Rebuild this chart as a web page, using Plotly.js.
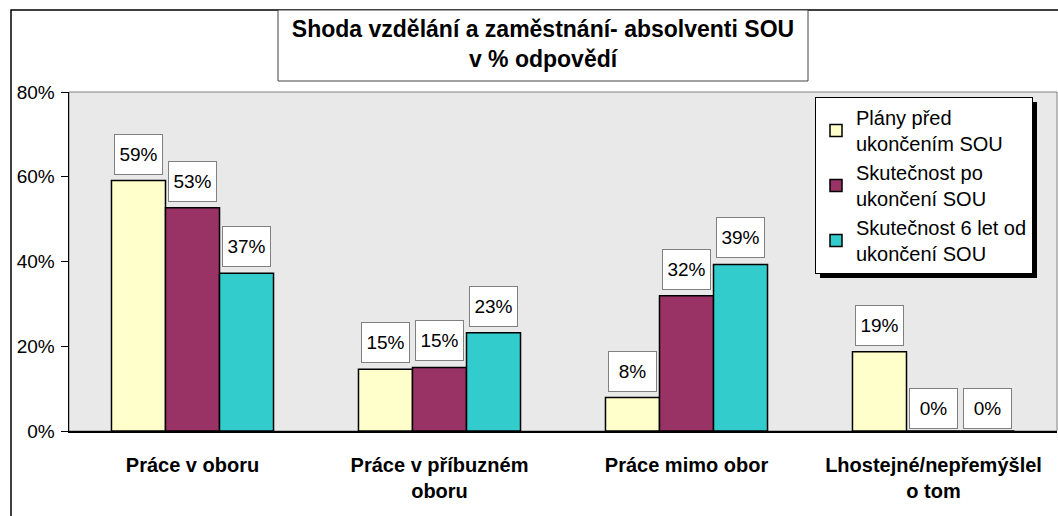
<!DOCTYPE html>
<html>
<head>
<meta charset="utf-8">
<script src="https://cdn.plot.ly/plotly-3.0.1.min.js"></script>
<style>
html,body{margin:0;padding:0;background:#fff;}
#chart{width:1058px;height:516px;}
</style>
</head>
<body>
<div id="chart"></div>
<script>
var categories = ["Práce v oboru", "Práce v příbuzném<br>oboru", "Práce mimo obor", "Lhostejné/nepřemýšlel<br>o tom"];
var seriesNames = ["Plány před<br>ukončením SOU", "Skutečnost po<br>ukončení SOU", "Skutečnost 6 let od<br>ukončení SOU"];
var plansBefore = [59.1, 14.6, 7.9, 18.7];
var realityAfter = [52.7, 15.0, 31.9, 0];
var reality6Years = [37.2, 23.2, 39.3, 0];
var yTicks = [0, 20, 40, 60, 80];

var colors = ["#FFFFCC", "#993366", "#33CCCC"];
var allSeries = [plansBefore, realityAfter, reality6Years];

var bargap = 0.344;
var barW = (1 - bargap) / 3;
var FONT = "Liberation Sans, Arial, sans-serif";

var traces = allSeries.map(function (vals, i) {
  return {
    type: "bar",
    x: categories,
    y: vals,
    name: seriesNames[i],
    legendgroup: "g" + i,
    marker: {color: colors[i], line: {color: "#000", width: 1.5}},
    hoverinfo: "skip"
  };
});

var annotations = [];
allSeries.forEach(function (vals, i) {
  vals.forEach(function (v, j) {
    annotations.push({
      xref: "x", yref: "y",
      x: j + (i - 1) * barW,
      y: v,
      text: Math.round(v) + "%",
      showarrow: false,
      yanchor: "bottom",
      yshift: v === 0 ? 2 : 6,
      bgcolor: "#fff",
      bordercolor: "#808080",
      borderwidth: 1,
      width: 45,
      height: 37,
      font: {family: FONT, size: 19, color: "#000"}
    });
  });
});

var L = 69, R = 1057, T = 92, B = 431;
function px(x) { return (x - L) / (R - L); }
function py(y) { return (B - y) / (B - T); }

var shapes = [
  {type: "rect", xref: "paper", yref: "paper", x0: px(11), x1: px(1070), y0: py(530), y1: py(10),
   line: {color: "#000", width: 1.5}, layer: "below"},
  {type: "rect", xref: "paper", yref: "paper", x0: 0, x1: 1, y0: 0, y1: 1,
   line: {color: "#808080", width: 1}, layer: "below"},
  {type: "rect", xref: "paper", yref: "paper", x0: px(278), x1: px(808), y0: py(81), y1: py(10),
   line: {color: "#404040", width: 1}, fillcolor: "#fff"}
];

var layout = {
  width: 1058, height: 516,
  margin: {l: L, r: 1058 - R, t: T, b: 516 - B, pad: 0},
  paper_bgcolor: "#fff",
  plot_bgcolor: "#e9e9e9",
  barmode: "group",
  bargap: bargap,
  bargroupgap: 0,
  font: {family: FONT, color: "#000"},
  title: {
    text: "<b>Shoda vzdělání a zaměstnání- absolventi SOU<br>v % odpovědí</b>",
    x: 543 / 1058, xanchor: "center",
    y: 1 - 37 / 516, yanchor: "middle",
    xref: "container", yref: "container",
    font: {family: FONT, size: 23, color: "#000"}
  },
  xaxis: {
    type: "category",
    showline: true, linecolor: "#000", linewidth: 1.5,
    ticks: "", showgrid: false,
    tickfont: {family: FONT, size: 20, color: "#000", weight: "bold"},
    ticklabelstandoff: 15,
    fixedrange: true
  },
  yaxis: {
    range: [0, 80],
    tickvals: yTicks,
    ticktext: yTicks.map(function (t) { return t + "%"; }),
    showline: true, linecolor: "#000", linewidth: 1.5,
    ticks: "outside", ticklen: 7, tickcolor: "#000", tickwidth: 1,
    showgrid: false, zeroline: false,
    tickfont: {family: FONT, size: 19, color: "#000"},
    ticklabelstandoff: 2,
    fixedrange: true
  },
  showlegend: true,
  legend: {
    x: px(815), y: py(97), xanchor: "left", yanchor: "top",
    bgcolor: "#fff", bordercolor: "#000", borderwidth: 1,
    font: {family: FONT, size: 20, color: "#000"},
    traceorder: "grouped", tracegroupgap: 0,
    itemwidth: 30
  },
  annotations: annotations,
  shapes: shapes
};

Plotly.newPlot("chart", traces, layout, {displayModeBar: false, staticPlot: true}).then(function (gd) {
  // drop shadow behind the legend box, as in the reference
  var bg = gd.querySelector(".legend rect.bg");
  if (!bg) return;
  var sh = bg.cloneNode(false);
  sh.removeAttribute("class");
  sh.setAttribute("transform", (bg.getAttribute("transform") || "") + " translate(4,4)");
  sh.style.fill = "#000";
  sh.style.stroke = "none";
  bg.parentNode.insertBefore(sh, bg);
});
</script>
</body>
</html>
